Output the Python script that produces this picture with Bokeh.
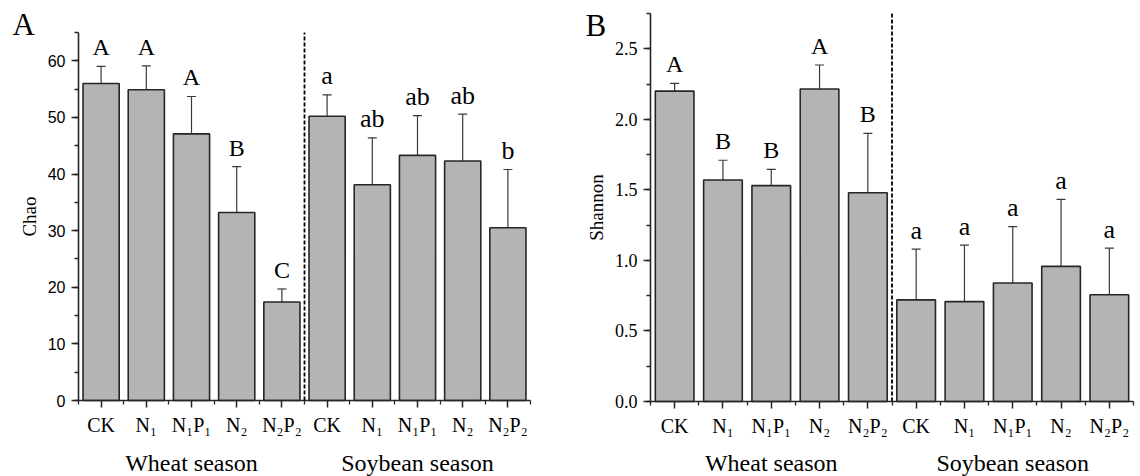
from bokeh.plotting import figure
from bokeh.layouts import row
from bokeh.models import (ColumnDataSource, FixedTicker, SingleIntervalTicker, Range1d,
                          Whisker, TeeHead, Label, PrintfTickFormatter)
from bokeh.embed import file_html
from bokeh.resources import INLINE

# ---------------- data ----------------
treatments = ["CK", "N₁", "N₁P₁", "N₂", "N₂P₂"]
seasons = ["Wheat season", "Soybean season"]
tick_labels = treatments + treatments

chao_mean = [56.0, 54.9, 47.1, 33.2, 17.4, 50.2, 38.1, 43.3, 42.3, 30.5]
chao_err = [3.0, 4.2, 6.6, 8.1, 2.3, 3.8, 8.3, 7.0, 8.3, 10.3]
chao_letters = ["A", "A", "A", "B", "C", "a", "ab", "ab", "ab", "b"]

shannon_mean = [2.20, 1.57, 1.53, 2.215, 1.48, 0.72, 0.708, 0.84, 0.958, 0.757]
shannon_err = [0.055, 0.14, 0.115, 0.17, 0.42, 0.36, 0.40, 0.40, 0.475, 0.33]
shannon_letters = ["A", "B", "B", "A", "B", "a", "a", "a", "a", "a"]

SERIF = "Liberation Serif"
SANS = "Liberation Sans"
BAR_FILL = "#b4b4b4"
DARK = "#262626"


def make_panel(mean, err, letters, ylabel, ymax, yinterval, panel, width, height,
               axis_left, axis_right, axis_top, axis_bottom,
               ytick_font, ytick_size, yfmt, panel_xy):
    """axis_* are the pixel edges of the data area inside this figure's canvas."""
    n = len(mean)
    xs = list(range(1, n + 1))
    px_x = (axis_right - axis_left) / n
    px_y = (axis_bottom - axis_top) / ymax
    x_range = Range1d(0.5 - axis_left / px_x, 0.5 + (width - axis_left) / px_x)
    y_range = Range1d(-(height - axis_bottom) / px_y, axis_bottom / px_y)

    src = ColumnDataSource(dict(
        x=xs, top=mean,
        upper=[m + e for m, e in zip(mean, err)],
        lower=[m - e for m, e in zip(mean, err)],
        letter=letters,
        fsize=["26px" if l.islower() else "24px" for l in letters],
    ))
    p = figure(width=width, height=height, x_range=x_range, y_range=y_range,
               output_backend="svg", toolbar_location=None,
               min_border=0, min_border_left=0, min_border_right=0,
               min_border_top=0, min_border_bottom=0)
    p.outline_line_color = None
    p.xgrid.visible = False
    p.ygrid.visible = False
    p.background_fill_color = "white"
    p.border_fill_color = "white"

    p.vbar(x="x", top="top", width=0.8, bottom=0, source=src,
           fill_color=BAR_FILL, line_color=DARK, line_width=1.6)

    w = Whisker(base="x", upper="upper", lower="lower", source=src,
                line_color="#3a3a3a", line_width=1.2,
                upper_head=TeeHead(size=9, line_color="#3a3a3a", line_width=1.2),
                lower_head=TeeHead(size=9, line_color="#3a3a3a", line_width=1.2))
    p.add_layout(w)

    p.text(x="x", y="upper", text="letter", source=src, text_align="center",
           text_baseline="alphabetic", y_offset=-19, text_font={"value": SERIF},
           text_font_size="fsize", text_color="black")

    half = n // 2
    p.segment(x0=[half + 0.5], y0=[0], x1=[half + 0.5], y1=[ymax],
              line_color="black", line_dash="4 2", line_width=1.8)

    # x axis
    xa = p.xaxis[0]
    xa.fixed_location = 0
    xa.bounds = (0.5, n + 0.5)
    xa.ticker = FixedTicker(ticks=xs, minor_ticks=[i + 0.5 for i in range(0, n + 1)])
    xa.major_label_overrides = {i + 1: t for i, t in enumerate(tick_labels)}
    xa.major_label_text_font = SERIF
    xa.major_label_text_font_size = "20px"
    xa.major_label_text_color = "black"
    xa.major_label_standoff = 6
    xa.major_tick_in = 0
    xa.major_tick_out = 7
    xa.minor_tick_in = 0
    xa.minor_tick_out = 4
    xa.axis_line_width = 1.6
    xa.axis_line_color = DARK
    xa.major_tick_line_color = DARK
    xa.major_tick_line_width = 1.5
    xa.minor_tick_line_color = DARK
    xa.minor_tick_line_width = 1.3

    # y axis
    ya = p.yaxis[0]
    ya.fixed_location = 0.5
    ya.bounds = (0, ymax)
    ya.ticker = SingleIntervalTicker(interval=yinterval, num_minor_ticks=2)
    if yfmt:
        ya.formatter = PrintfTickFormatter(format=yfmt)
    ya.major_label_text_font = ytick_font
    ya.major_label_text_font_size = ytick_size
    ya.major_label_text_color = "black"
    ya.major_label_standoff = 6
    ya.major_tick_in = 0
    ya.major_tick_out = 7
    ya.minor_tick_in = 0
    ya.minor_tick_out = 4
    ya.axis_line_width = 1.6
    ya.axis_line_color = DARK
    ya.major_tick_line_color = DARK
    ya.major_tick_line_width = 1.5
    ya.minor_tick_line_color = DARK
    ya.minor_tick_line_width = 1.3
    ya.axis_label = ylabel
    ya.axis_label_text_font = SERIF
    ya.axis_label_text_font_style = "normal"
    ya.axis_label_text_font_size = "19px"
    ya.axis_label_text_color = "black"
    ya.axis_label_standoff = 5

    # season labels (screen units measured from the canvas bottom-left)
    centers = [sum(xs[:half]) / half, sum(xs[half:]) / (n - half)]
    for c, s in zip(centers, seasons):
        p.add_layout(Label(x=c, y=14, x_units="data", y_units="screen", text=s,
                           text_align="center", text_baseline="alphabetic",
                           text_font=SERIF, text_font_size="24px", text_color="black"))
    # panel letter
    p.add_layout(Label(x=panel_xy[0], y=height - panel_xy[1], x_units="screen",
                       y_units="screen", text=panel, text_align="left",
                       text_baseline="alphabetic", text_font=SERIF,
                       text_font_size="31px", text_color="black"))
    return p


pA = make_panel(chao_mean, chao_err, chao_letters, "Chao", 65, 10, "A",
                560, 476, 78, 530, 32, 400, SANS, "16px", None, (12, 24))
pB = make_panel(shannon_mean, shannon_err, shannon_letters, "Shannon", 2.75, 0.5, "B",
                580, 476, 90, 573, 13, 401, SERIF, "18px", "%.1f", (25, 25))

layout = row(pA, pB)
open("out.html", "w").write(file_html(layout, INLINE))
